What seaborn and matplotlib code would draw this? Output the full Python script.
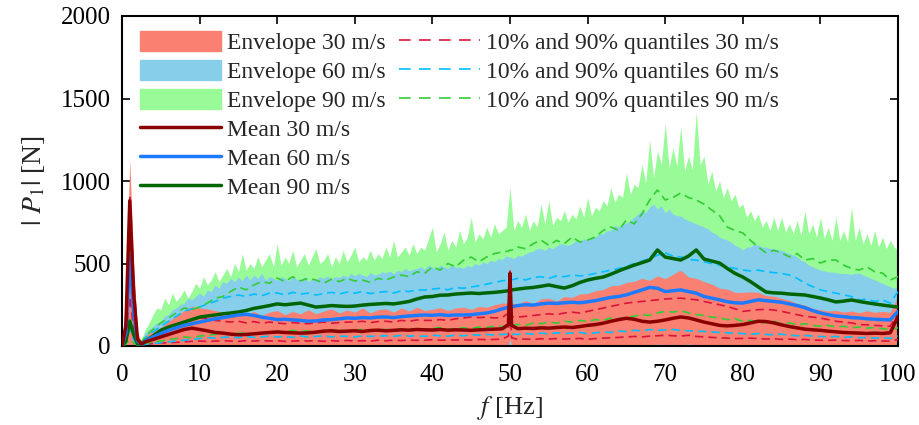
import numpy as np
import pandas as pd
import matplotlib
matplotlib.use("Agg")
import matplotlib.pyplot as plt
import seaborn as sns
from matplotlib.patches import Patch
from matplotlib.lines import Line2D

# ---------------- data ----------------
# coarse frequency grid for means, quantiles and the 30 m/s envelope
F = [0, 0.5, 1, 1.5, 2, 2.5, 3] + list(range(4, 50)) + [49.8, 50, 50.2] + list(range(51, 101))
# fine frequency grid (0.5 Hz) for the 60 and 90 m/s envelopes
F_FINE = [i / 2 for i in range(201)]

MEAN_30 = [0, 120, 880, 320, 40, 12, 25,
           40, 55, 70, 85, 100, 108, 100, 92, 82, 78,
           72, 68, 70, 74, 78, 82, 85, 82, 80, 78,
           80, 84, 90, 92, 88, 90, 92, 88, 94, 96,
           92, 95, 98, 96, 100, 98, 97, 100, 96, 98,
           97, 95, 98, 100, 102, 104,
           130, 440, 125,
           105, 108, 106, 110, 108, 112, 115, 112, 118, 125,
           130, 138, 150, 160, 168, 162, 150, 145, 150, 158,
           168, 176, 170, 158, 145, 135, 125, 122, 125, 130,
           140, 150, 148, 140, 128, 118, 110, 102, 98, 95,
           90, 86, 82, 80, 78, 76, 78, 76, 80, 180]

MEAN_60 = [0, 80, 540, 200, 30, 10, 30,
           55, 75, 95, 110, 125, 135, 145, 155, 165, 172,
           180, 188, 192, 185, 175, 168, 160, 162, 158, 155,
           150, 152, 158, 160, 165, 170, 168, 172, 170, 175,
           176, 172, 178, 182, 185, 188, 186, 190, 185, 188,
           188, 190, 195, 200, 210, 225,
           235, 240, 238,
           245, 250, 248, 255, 260, 258, 262, 265, 262, 268,
           275, 285, 295, 300, 310, 325, 340, 355, 350, 330,
           335, 340, 330, 320, 300, 290, 280, 268, 262, 260,
           270, 280, 275, 270, 265, 255, 245, 232, 215, 200,
           190, 182, 178, 172, 170, 165, 162, 160, 158, 210]

MEAN_90 = [0, 30, 150, 70, 15, 8, 30,
           60, 95, 115, 130, 145, 160, 175, 182, 188, 195,
           200, 206, 215, 228, 236, 245, 255, 250, 255, 260,
           248, 236, 240, 245, 242, 240, 242, 248, 252, 255,
           258, 255, 262, 270, 285, 297, 300, 308, 309, 315,
           318, 321, 318, 322, 325, 330,
           335, 339, 340,
           345, 351, 355, 362, 370, 360, 351, 365, 385, 400,
           410, 418, 435, 455, 473, 490, 505, 521, 582, 539,
           530, 521, 545, 582, 527, 515, 503, 470, 440, 418,
           390, 358, 327, 322, 320, 315, 312, 309, 300, 291,
           280, 267, 272, 279, 270, 262, 255, 248, 242, 236]

ENV_30_HI = [20, 300, 1130, 500, 80, 30, 60,
             90, 110, 150, 180, 215, 240, 230, 225, 215, 205,
             200, 215, 190, 210, 185, 205, 215, 190, 210, 195,
             220, 195, 212, 225, 200, 218, 205, 230, 200, 220,
             225, 205, 230, 212, 235, 215, 222, 232, 215, 230,
             235, 222, 240, 235, 250, 260,
             260, 500, 260,
             255, 275, 258, 285, 290, 272, 300, 295, 315, 318,
             335, 342, 365, 368, 385, 392, 410, 398, 425, 408,
             435, 460, 418, 410, 390, 375, 350, 345, 325, 325,
             328, 325, 305, 302, 288, 278, 258, 248, 228, 220,
             212, 216, 206, 212, 202, 214, 204, 210, 204, 300]

ENV_30_LO = [0, 0, 4, 2, 0, 0, 0,
             2, 3, 5, 4, 6, 3, 5, 7, 4, 6,
             5, 8, 4, 6, 7, 3, 6, 5, 8, 4,
             6, 5, 7, 4, 8, 5, 6, 4, 7, 5,
             8, 4, 6, 7, 5, 8, 4, 6, 5, 7,
             6, 4, 8, 5, 7, 6,
             8, 40, 8,
             5, 7, 4, 8, 6, 5, 9, 4, 7, 6,
             8, 5, 7, 9, 6, 10, 7, 8, 11, 9,
             10, 8, 12, 7, 9, 6, 8, 5, 7, 6,
             8, 5, 7, 6, 4, 7, 5, 6, 4, 5,
             6, 4, 5, 3, 6, 4, 5, 3, 4, 6]

ENV_60_HI = [10, 150, 620, 250, 60, 30, 80, 100, 120, 140,
             150, 180, 190, 220, 230, 250, 260, 290, 280, 300,
             321, 300, 340, 330, 370, 350, 390, 380, 410, 390,
             418, 395, 430, 400, 430, 410, 440, 400, 420, 410,
             400, 420, 410, 395, 420, 405, 400, 420, 390, 410,
             400, 420, 410, 425, 405, 420, 415, 430, 418, 440,
             425, 440, 430, 420, 445, 430, 435, 450, 442, 455,
             438, 460, 450, 470, 455, 465, 470, 480, 465, 490,
             479, 465, 490, 480, 470, 495, 475, 480, 470, 490,
             479, 500, 490, 510, 500, 520, 510, 530, 525, 545,
             540, 530, 550, 545, 560, 570, 575, 590, 590, 580,
             600, 590, 605, 620, 615, 610, 620, 640, 630, 650,
             642, 660, 660, 680, 680, 700, 700, 730, 720, 740,
             745, 760, 780, 800, 820, 810, 842, 860, 830, 850,
             806, 830, 800, 790, 788, 770, 760, 750, 740, 730,
             721, 710, 690, 680, 660, 650, 642, 630, 610, 600,
             582, 600, 600, 620, 610, 600, 600, 590, 590, 585,
             580, 570, 560, 550, 540, 520, 510, 490, 480, 470,
             460, 455, 450, 448, 445, 440, 440, 438, 435, 440,
             442, 430, 420, 410, 400, 390, 380, 370, 358, 350,
             360]

ENV_90_HI = [10, 60, 250, 120, 50, 40, 100, 140, 190, 230,
             220, 290, 250, 320, 270, 300, 340, 290, 330, 380,
             350, 420, 370, 400, 450, 390, 430, 470, 420, 500,
             450, 560, 460, 500, 470, 540, 480, 520, 560, 480,
             620, 490, 540, 500, 580, 480, 520, 560, 490, 540,
             590, 500, 520, 560, 480, 540, 500, 580, 510, 550,
             600, 510, 540, 520, 580, 520, 560, 530, 600, 540,
             640, 540, 570, 600, 550, 620, 560, 600, 580, 650,
             720, 570, 620, 690, 580, 640, 600, 700, 620, 660,
             780, 630, 680, 650, 720, 660, 740, 680, 700, 720,
             960, 700, 760, 720, 800, 700, 760, 720, 860, 740,
             880, 730, 780, 760, 820, 750, 800, 770, 850, 780,
             900, 790, 840, 820, 880, 850, 960, 870, 920, 900,
             1050, 920, 980, 960, 1100, 990, 1250, 1020, 1180, 1100,
             1350, 1080, 1200, 1090, 1330, 1060, 1150, 1070, 1420, 1100,
             1150, 980, 1060, 940, 1000, 900, 960, 880, 920, 840,
             860, 780, 820, 760, 800, 720, 760, 700, 780, 700,
             780, 690, 740, 680, 760, 670, 820, 680, 740, 660,
             780, 650, 720, 640, 780, 640, 700, 630, 842, 640,
             720, 620, 680, 610, 700, 600, 660, 590, 640, 600,
             580]

Q_30_HI = [0, 150, 900, 400, 50, 15, 35,
           50, 70, 95, 120, 150, 160, 170, 165, 155, 150,
           145, 150, 140, 148, 138, 145, 140, 135, 142, 138,
           135, 140, 145, 138, 142, 145, 145, 150, 142, 148,
           150, 145, 155, 150, 158, 155, 155, 160, 155, 165,
           170, 176, 172, 175, 170, 172,
           200, 470, 180,
           175, 180, 185, 190, 195, 190, 200, 205, 200, 210,
           220, 230, 240, 250, 260, 265, 270, 275, 280, 285,
           288, 290, 285, 280, 270, 260, 250, 240, 225, 210,
           215, 220, 222, 218, 210, 200, 190, 180, 175, 170,
           160, 150, 145, 140, 130, 128, 125, 122, 120, 200]

Q_30_LO = [0, 40, 300, 100, 10, 5, 10,
           15, 18, 20, 22, 25, 28, 30, 28, 30, 32,
           30, 28, 32, 30, 33, 30, 32, 28, 30, 32,
           30, 33, 28, 32, 30, 34, 30, 32, 30, 35,
           32, 35, 33, 36, 34, 35, 38, 35, 37, 36,
           38, 36, 40, 38, 40, 42,
           60, 330, 50,
           40, 42, 40, 44, 42, 45, 42, 44, 46, 40,
           45, 48, 50, 52, 55, 58, 55, 60, 62, 65,
           62, 60, 65, 58, 55, 52, 50, 48, 45, 46,
           48, 45, 42, 44, 40, 42, 38, 40, 36, 35,
           34, 36, 33, 32, 34, 30, 32, 30, 30, 40]

Q_60_HI = [0, 90, 600, 220, 35, 15, 50,
           85, 120, 150, 180, 210, 225, 236, 255, 270, 290,
           300, 309, 300, 315, 305, 320, 321, 310, 325, 315,
           320, 309, 318, 325, 315, 327, 320, 330, 318, 325,
           330, 321, 335, 330, 340, 339, 345, 350, 340, 355,
           350, 358, 365, 375, 385, 395,
           400, 405, 400,
           410, 400, 415, 420, 410, 425, 420, 430, 425, 430,
           440, 450, 460, 470, 480, 500, 515, 530, 550, 564,
           545, 540, 525, 520, 510, 500, 490, 480, 470, 460,
           455, 460, 450, 445, 440, 430, 410, 380, 360, 340,
           330, 320, 310, 300, 279, 285, 270, 279, 260, 330]

Q_60_LO = [0, 20, 100, 40, 5, 5, 10,
           15, 20, 25, 30, 35, 40, 45, 50, 48, 52,
           55, 50, 58, 52, 55, 60, 55, 58, 52, 60,
           55, 58, 62, 55, 60, 58, 55, 62, 58, 60,
           62, 58, 65, 60, 62, 58, 65, 62, 60, 66,
           62, 68, 65, 70, 66, 70,
           72, 75, 72,
           70, 75, 72, 78, 74, 80, 76, 78, 82, 75,
           80, 85, 82, 90, 88, 95, 92, 100, 95, 98,
           100, 95, 92, 90, 88, 85, 82, 80, 78, 75,
           72, 75, 70, 68, 72, 65, 62, 64, 60, 58,
           55, 58, 52, 55, 50, 52, 48, 50, 46, 60]

Q_90_HI = [0, 40, 160, 80, 25, 20, 60,
           100, 140, 170, 200, 230, 220, 236, 260, 290, 300,
           330, 358, 340, 370, 390, 380, 412, 390, 420, 395,
           410, 400, 380, 405, 390, 410, 394, 400, 385, 410,
           400, 418, 430, 420, 450, 440, 479, 460, 500, 480,
           520, 539, 510, 540, 560, 570,
           575, 582, 580,
           600, 590, 620, 642, 610, 640, 620, 660, 630, 642,
           660, 700, 721, 700, 764, 740, 800, 885, 945, 885,
           900, 927, 900, 885, 860, 824, 790, 721, 700, 685,
           640, 600, 564, 580, 564, 540, 560, 521, 530, 503,
           520, 521, 490, 470, 460, 480, 450, 442, 400, 420]

Q_90_LO = [0, 10, 40, 20, 5, 5, 15,
           25, 30, 40, 45, 55, 50, 60, 65, 70, 75,
           70, 78, 80, 75, 85, 80, 90, 85, 95, 88,
           92, 85, 95, 90, 100, 88, 95, 100, 92, 98,
           100, 95, 105, 98, 110, 100, 105, 112, 100, 108,
           110, 105, 115, 112, 120, 118,
           120, 125, 125,
           130, 125, 140, 135, 145, 138, 150, 145, 155, 150,
           160, 155, 170, 165, 175, 180, 190, 185, 200, 210,
           205, 215, 200, 190, 185, 175, 170, 160, 165, 150,
           155, 145, 140, 150, 135, 140, 130, 135, 125, 120,
           125, 115, 120, 110, 115, 108, 112, 105, 100, 110]

SPEEDS = ["30 m/s", "60 m/s", "90 m/s"]
X_TICKS = list(range(0, 101, 10))
Y_TICKS = [0, 500, 1000, 1500, 2000]

for arr in [MEAN_30, MEAN_60, MEAN_90, ENV_30_HI, ENV_30_LO,
            Q_30_HI, Q_30_LO, Q_60_HI, Q_60_LO, Q_90_HI, Q_90_LO]:
    assert len(arr) == len(F), len(arr)
for arr in [ENV_60_HI, ENV_90_HI]:
    assert len(arr) == len(F_FINE), len(arr)

# ---------------- styling ----------------
sns.set_theme(style="ticks")
plt.rcParams["font.family"] = ["Liberation Serif", "DejaVu Serif"]
plt.rcParams["mathtext.fontset"] = "stix"

ENV_COLORS = ["#FA8072", "#87CEEB", "#98FB98"]
MEAN_COLORS = ["#8B0000", "#1E7BFF", "#006400"]
Q_COLORS = ["#DC143C", "#00BFFF", "#32CD32"]

fig = plt.figure(figsize=(9.2, 4.25), dpi=100)
ax = fig.add_axes([122 / 920, 1 - 346 / 425, (898 - 122) / 920, (346 - 16) / 425])

# envelopes: 90 at the back, 30 on top (lower bounds of 60/90 are hidden -> 0)
ax.fill_between(F_FINE, 0, ENV_90_HI, color=ENV_COLORS[2], lw=0, zorder=1.0)
ax.fill_between(F_FINE, 0, ENV_60_HI, color=ENV_COLORS[1], lw=0, zorder=1.1)
ax.fill_between(F, ENV_30_LO, ENV_30_HI, color=ENV_COLORS[0], lw=0, zorder=1.2)

qs = [(Q_30_LO, Q_30_HI), (Q_60_LO, Q_60_HI), (Q_90_LO, Q_90_HI)]
means = [MEAN_30, MEAN_60, MEAN_90]

# quantile lines
for i in range(3):
    for arr in qs[i]:
        sns.lineplot(x=F, y=arr, ax=ax, color=Q_COLORS[i], lw=1.2,
                     linestyle=(0, (5, 3)), zorder=3, legend=False)

# mean lines
for i in [2, 1, 0]:
    sns.lineplot(x=F, y=means[i], ax=ax, color=MEAN_COLORS[i], lw=2.5,
                 zorder=4, legend=False)

ax.set_xlim(0, 100)
ax.set_ylim(0, 2000)
ax.set_xticks(X_TICKS)
ax.set_yticks(Y_TICKS)
ax.tick_params(direction="in", length=6, width=1.2, top=True, right=True,
               labelsize=18, colors="black")
ax.tick_params(axis="x", labeltop=False, pad=13)
ax.tick_params(axis="y", labelright=False, pad=8)
for s in ax.spines.values():
    s.set_linewidth(1.5)
    s.set_color("black")
ax.set_facecolor("white")
ax.grid(False)

ax.set_xlabel(r"$f$ [Hz]", fontsize=19, labelpad=6)
ax.set_ylabel(r"$|\ P_1|$ [N]", fontsize=20, labelpad=10)

# legend: 6 rows in first column, 3 in second
handles = [Patch(color=c) for c in ENV_COLORS] + \
          [Line2D([], [], color=c, lw=2.5) for c in MEAN_COLORS] + \
          [Line2D([], [], color=c, lw=1.2, linestyle=(0, (7, 5))) for c in Q_COLORS] + \
          [Line2D([], [], color="none")] * 3
labels = [f"Envelope {s}" for s in SPEEDS] + [f"Mean {s}" for s in SPEEDS] + \
         [f"10% and 90% quantiles {s}" for s in SPEEDS] + [""] * 3
ax.legend(handles, labels, ncol=2, loc="upper left", bbox_to_anchor=(0.004, 1.0),
          frameon=False, fontsize=17, handlelength=3.4, handleheight=0.9,
          handletextpad=0.25, columnspacing=0.6, labelspacing=0.25,
          borderaxespad=0.35, borderpad=0.3)

fig.savefig("out.png", dpi=100, facecolor="white")
